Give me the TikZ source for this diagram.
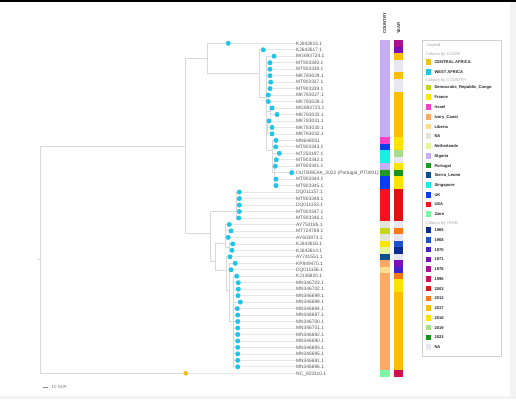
\documentclass[tikz,border=0pt]{standalone}
\usepackage{fontspec}
\setmainfont{Liberation Sans}
\usetikzlibrary{backgrounds}
\definecolor{westc}{HTML}{22C5E8}
\definecolor{centc}{HTML}{EEC21C}
\definecolor{branchc}{HTML}{D9D9D9}
\definecolor{alignc}{HTML}{E6E6E6}
\definecolor{labc}{HTML}{555555}
\definecolor{stripc}{HTML}{F3F3F3}
\definecolor{cDRC}{HTML}{C4D81A}
\definecolor{cFra}{HTML}{FFE600}
\definecolor{cIsr}{HTML}{F542C8}
\definecolor{cIvo}{HTML}{FDAA65}
\definecolor{cLib}{HTML}{FFDD90}
\definecolor{cNA}{HTML}{E3E4DA}
\definecolor{cNet}{HTML}{E4F59B}
\definecolor{cNig}{HTML}{C7ADF2}
\definecolor{cPor}{HTML}{1E9A28}
\definecolor{cSie}{HTML}{0D4E8C}
\definecolor{cSin}{HTML}{17F0E1}
\definecolor{cUK}{HTML}{0B3DF5}
\definecolor{cUSA}{HTML}{FC0F1E}
\definecolor{cZai}{HTML}{7DF7A6}
\definecolor{y1965}{HTML}{0E2C8F}
\definecolor{y1968}{HTML}{1F50CF}
\definecolor{y1970}{HTML}{4221CC}
\definecolor{y1971}{HTML}{7A11B8}
\definecolor{y1978}{HTML}{AD1190}
\definecolor{y1996}{HTML}{CF0F4E}
\definecolor{y2003}{HTML}{DE1414}
\definecolor{y2012}{HTML}{FC7813}
\definecolor{y2017}{HTML}{FDBE00}
\definecolor{y2018}{HTML}{FCE400}
\definecolor{y2019}{HTML}{A6DC8A}
\definecolor{y2022}{HTML}{18921C}
\definecolor{yNA}{HTML}{E8E7F1}
\begin{document}
\begin{tikzpicture}[x=1pt,y=-1pt,
  br/.style={draw=branchc, line width=0.9pt},
  al/.style={draw=alignc, line width=0.7pt},
  wdot/.style={circle, fill=westc, inner sep=0pt, minimum size=5pt},
  cdot/.style={circle, fill=centc, inner sep=0pt, minimum size=4.8pt},
  leaflab/.style={anchor=west, inner sep=0pt, text=labc, text height=3.5pt, text depth=0pt, font=\fontsize{4.85}{5.5}\selectfont},
  colhead/.style={rotate=90, anchor=west, inner sep=0pt, text=black!80, font=\fontsize{4.2}{5}\selectfont\bfseries},
  legitem/.style={anchor=west, inner sep=0pt, text=black!85, text height=3pt, text depth=0pt, font=\fontsize{4.1}{5}\selectfont\bfseries},
  leghead/.style={anchor=west, inner sep=0pt, text=black!35, text height=3pt, text depth=0pt, font=\fontsize{4.1}{5}\selectfont},
  swatch/.style={minimum size=5.6pt, inner sep=0pt}]
\useasboundingbox (0,0) rectangle (516,399);
% frame
\fill[black] (0,0) rectangle (516,2);
\fill[stripc] (510,2) rectangle (516,399);
\fill[stripc] (0,396) rectangle (510,399);

% leaves
\foreach \i/\nm/\dx in {
 1/KJ642615.1/228.3, 2/KJ642617.1/263.3, 3/MG693724.1/274, 4/MT903340.1/270,
 5/MT903338.1/270, 6/MK783029.1/270, 7/MT903337.1/270.7, 8/MT903339.1/270,
 9/MK783027.1/268.3, 10/MK783028.1/268.3, 11/MG693723.1/272, 12/MK783033.1/277,
 13/MK783031.1/269, 14/MK783030.1/272, 15/MK783032.1/272, 16/MN648051/276,
 17/MT903343.1/275.7, 18/MT250197.1/279.3, 19/MT903342.1/276.3, 20/MT903341.1/275.3,
 21/{OUTBREAK\_2022 (Portugal\_PT0001)}/291.7, 22/MT903344.1/276, 23/MT903345.1/276,
 24/DQ011157.1/239.3, 25/MT903348.1/239.3, 26/DQ011153.1/239.3, 27/MT903347.1/239.3,
 28/MT903346.1/238.7, 29/AY753185.1/229.3, 30/MT724769.1/231, 31/AY603973.1/228.2,
 32/KJ642616.1/232.7, 33/KJ642614.1/232, 34/AY741551.1/230, 35/KP849470.1/235.3,
 36/DQ011156.1/231, 37/KJ136820.1/236.7, 38/MN346703.1/238.3, 39/MN346702.1/238.3,
 40/MN346699.1/238, 41/MN346698.1/240.3, 42/MN346694.1/237.3, 43/MN346697.1/237.7,
 44/MN346700.1/237.7, 45/MN346701.1/237.7, 46/MN346692.1/237.7, 47/MN346690.1/237.7,
 48/MN346693.1/237.7, 49/MN346695.1/237.7, 50/MN346691.1/237.7, 51/MN346696.1/237.7}
{
  \pgfmathsetmacro\yy{43.3+(\i-1)*6.47}
  \node[wdot] (d\i) at (\dx,\yy) {};
  \node[leaflab] (l\i) at (296,\yy) {\nm};
}
\node[cdot] (d52) at (185.7,373.3) {};
\node[leaflab] (l52) at (296,373.3) {NC\_003310.1};

% internal nodes
\coordinate (R0) at (38,259.7);
\coordinate (R) at (40,259.7);
\coordinate (A) at (185,146);
\coordinate (B) at (207,58.7);
\coordinate (D) at (259,73.3);
\coordinate (E) at (266.5,97);
\coordinate (F) at (270,111.2);
\coordinate (G) at (267.5,127.4);
\coordinate (H) at (272.5,150);
\coordinate (H2) at (274.3,172.7);
\coordinate (C) at (210,233.3);
\coordinate (G1) at (236.5,211.7);
\coordinate (N6) at (215,261.7);
\coordinate (C1) at (225,243);
\coordinate (C2) at (229,247.1);
\coordinate (N7) at (226,270);
\coordinate (N8) at (229.5,290);
\coordinate (N9) at (233.5,321.5);

\begin{scope}[on background layer]
  \foreach \i in {1,...,52} { \draw[al] (d\i) -- (l\i.west); }
  \draw[br] (R0) -- (R);
  \draw[br] (R |- A) -- (R |- d52);
  \draw[br] (R |- A) -- (A);
  \draw[br] (R |- d52) -- (d52);
  \draw[br] (A |- B) -- (A |- C);
  \draw[br] (A |- B) -- (B);
  \draw[br] (A |- C) -- (C);
  \draw[br] (B |- d1) -- (B |- D);
  \draw[br] (B |- d1) -- (d1);
  \draw[br] (B |- D) -- (D);
  \draw[br] (D |- d2) -- (D |- E);
  \draw[br] (D |- d2) -- (d2);
  \draw[br] (D |- E) -- (E);
  \draw[br] (E |- d3) -- (E |- H);
  \foreach \i in {3,...,10} { \draw[br] (E |- d\i) -- (d\i); }
  \draw[br] (E |- F) -- (F);
  \draw[br] (E |- G) -- (G);
  \draw[br] (E |- H) -- (H);
  \draw[br] (F |- d11) -- (F |- d12);
  \foreach \i in {11,12} { \draw[br] (F |- d\i) -- (d\i); }
  \draw[br] (G |- d13) -- (G |- d15);
  \foreach \i in {13,14,15} { \draw[br] (G |- d\i) -- (d\i); }
  \draw[br] (H |- d16) -- (H |- H2);
  \foreach \i in {16,17,18} { \draw[br] (H |- d\i) -- (d\i); }
  \draw[br] (H |- H2) -- (H2);
  \draw[br] (H2 |- d19) -- (H2 |- d23);
  \foreach \i in {19,...,23} { \draw[br] (H2 |- d\i) -- (d\i); }
  \draw[br] (C |- G1) -- (C |- N6);
  \draw[br] (C |- G1) -- (G1);
  \draw[br] (C |- N6) -- (N6);
  \draw[br] (G1 |- d24) -- (G1 |- d28);
  \foreach \i in {24,...,28} { \draw[br] (G1 |- d\i) -- (d\i); }
  \draw[br] (N6 |- C1) -- (N6 |- N7);
  \draw[br] (N6 |- C1) -- (C1);
  \draw[br] (N6 |- N7) -- (N7);
  \draw[br] (C1 |- d29) -- (C1 |- C2);
  \foreach \i in {29,30,31} { \draw[br] (C1 |- d\i) -- (d\i); }
  \draw[br] (C1 |- C2) -- (C2);
  \draw[br] (C2 |- d32) -- (C2 |- d33);
  \foreach \i in {32,33} { \draw[br] (C2 |- d\i) -- (d\i); }
  \draw[br] (N7 |- d34) -- (N7 |- N8);
  \draw[br] (N7 |- d34) -- (d34);
  \draw[br] (N7 |- N8) -- (N8);
  \draw[br] (N8 |- d35) -- (N8 |- N9);
  \foreach \i in {35,36} { \draw[br] (N8 |- d\i) -- (d\i); }
  \draw[br] (N8 |- N9) -- (N9);
  \draw[br] (N9 |- d37) -- (N9 |- d51);
  \foreach \i in {37,...,51} { \draw[br] (N9 |- d\i) -- (d\i); }
\end{scope}

% metadata columns
\foreach \a/\b/\c in {1/15/cNig, 16/16/cIsr, 17/17/cUK, 18/19/cSin, 20/20/cNig, 21/21/cPor,
  22/23/cUK, 24/28/cUSA, 29/29/cNA, 30/30/cDRC, 31/31/cNA, 32/32/cFra, 33/33/cNet,
  34/34/cSie, 35/35/cIvo, 36/36/cLib, 37/51/cIvo, 52/52/cZai}
  { \fill[\c] (380,{40.1+(\a-1)*6.47}) rectangle (389.5,{40.1+\b*6.47}); }
\foreach \a/\b/\c in {1/1/y1978, 2/2/y1971, 3/3/y2017, 4/5/yNA, 6/6/y2017, 7/8/yNA,
  9/15/y2017, 16/17/y2018, 18/18/y2019, 19/19/yNA, 20/20/y2018, 21/21/y2022, 22/23/y2018,
  24/28/y2003, 29/29/yNA, 30/30/y2012, 31/31/yNA, 32/32/y1968, 33/33/y1965, 34/34/yNA,
  35/35/y1971, 36/36/y1970, 37/37/y2012, 38/39/y2018, 40/51/y2017, 52/52/y1996}
  { \fill[\c] (393.5,{40.1+(\a-1)*6.47}) rectangle (403,{40.1+\b*6.47}); }
\node[colhead] (hcountry) at (384.6,34) {COUNTRY};
\node[colhead] (hyear) at (398.6,34) {YEAR};

% legend
\fill[black!10] (423.1,41.5) rectangle (501.8,357.2);
\filldraw[fill=white, draw=black!18, line width=0.6pt] (422.3,40.7) rectangle (501,356.2);
\node[leghead] (lgt) at (426.5,45) {Legend};
\node[leghead] (lgclade) at (425.7,54) {Colours by CLADE};
\node[leghead] (lgcountry) at (425.7,80.3) {Colours by COUNTRY};
\node[leghead] (lgyear) at (425.7,222.7) {Colours by YEAR};
\foreach \k/\yy/\c/\t in {
  ca/61.7/centc/CENTRAL AFRICA, wa/71.7/westc/WEST AFRICA,
  drc/87.3/cDRC/Democratic\_Republic\_Congo, fra/97/cFra/France, isr/106.7/cIsr/Israel,
  ivo/116.7/cIvo/Ivory\_Coast, lib/126.5/cLib/Liberia, na/136.2/cNA/NA,
  net/146/cNet/Netherlands, nig/155.8/cNig/Nigeria, por/165.5/cPor/Portugal,
  sie/175.2/cSie/Sierra\_Leone, sin/185/cSin/Singapore, uk/194.7/cUK/UK,
  usa/204.3/cUSA/USA, zai/214/cZai/Zaire,
  a65/230/y1965/1965, a68/239.8/y1968/1968, a70/249.5/y1970/1970, a71/259.3/y1971/1971,
  a78/269/y1978/1978, a96/278.8/y1996/1996, b03/288.5/y2003/2003, b12/298.3/y2012/2012,
  b17/308/y2017/2017, b18/317.8/y2018/2018, b19/327.5/y2019/2019, b22/337.3/y2022/2022,
  yna/347/yNA/NA}
{
  \node[swatch, fill=\c] (s\k) at (428.5,\yy) {};
  \node[legitem] (t\k) at (434.3,\yy) {\t};
}

% scale bar
\coordinate (sb1) at (43.3,387.3);
\coordinate (sb2) at (47.9,387.3);
\draw[draw=black!45, line width=0.6pt] (sb1) -- (sb2);
\node[anchor=west, inner sep=0pt, text=black!50, font=\fontsize{4.4}{5}\selectfont] (sbl) at (51.5,387.3) {10 SNP};
\end{tikzpicture}
\end{document}
